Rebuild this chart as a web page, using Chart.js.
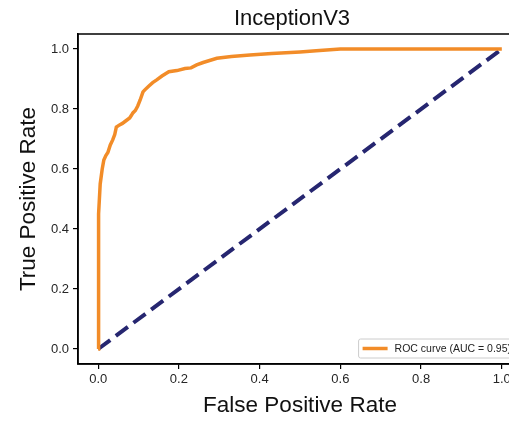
<!DOCTYPE html>
<html lang="en">
<head>
  <meta charset="UTF-8">
  <title>InceptionV3 ROC</title>
  <script src="https://cdn.jsdelivr.net/npm/chart.js@4.4.0/dist/chart.umd.min.js"></script>
  <style>
    html, body { margin: 0; padding: 0; background: #fff; overflow: hidden; }
  </style>
</head>
<body>
  <canvas id="roc" width="540" height="423"></canvas>
  <script>
    // ROC curve
    const fprValues = [0, 0, 0.002, 0.005, 0.010, 0.014, 0.019, 0.024, 0.030, 0.036, 0.041, 0.045, 0.053, 0.060, 0.068, 0.078, 0.082, 0.086, 0.092, 0.098, 0.104, 0.111, 0.115, 0.125, 0.135, 0.145, 0.158, 0.175, 0.195, 0.215, 0.230, 0.244, 0.26, 0.294, 0.33, 0.376, 0.43, 0.5, 0.54, 0.583, 0.6, 1.0];
    const tprValues = [0, 0.38, 0.45, 0.55, 0.60, 0.63, 0.645, 0.655, 0.68, 0.697, 0.715, 0.74, 0.747, 0.752, 0.760, 0.77, 0.778, 0.787, 0.795, 0.81, 0.83, 0.857, 0.863, 0.876, 0.888, 0.897, 0.91, 0.924, 0.928, 0.935, 0.937, 0.947, 0.955, 0.969, 0.975, 0.98, 0.985, 0.99, 0.994, 0.998, 1.0, 1.0];
    const chanceX = [0, 1];
    const chanceY = [0, 1];
    const tickValues = [0, 0.2, 0.4, 0.6, 0.8, 1.0];
    const chartTitle = 'InceptionV3';
    const rocLabel = 'ROC curve (AUC = 0.95)';

    const toPoints = (xs, ys) => xs.map((x, i) => ({ x: x, y: ys[i] }));
    const fixTicks = scale => { scale.ticks = tickValues.map(v => ({ value: v })); };

    const family = 'Liberation Sans, Arial, sans-serif';
    const tickFont = { family: family, size: 13 };
    const labelFont = { family: family, size: 22.5 };

    // title, frame on top + right, and the legend box inside the plot
    const framePlugin = {
      id: 'frame',
      afterDraw(chart) {
        const { ctx, chartArea } = chart;
        ctx.save();
        ctx.fillStyle = '#111';
        ctx.font = '22px ' + family;
        ctx.textAlign = 'center';
        ctx.textBaseline = 'middle';
        ctx.fillText(chartTitle, 292, 19);

        ctx.strokeStyle = '#000';
        ctx.lineWidth = 1.5;
        ctx.strokeRect(chartArea.left, chartArea.top, chartArea.right - chartArea.left, chartArea.bottom - chartArea.top);

        // legend
        const ds = chart.data.datasets[0];
        ctx.font = '10.5px ' + family;
        ctx.textAlign = 'left';
        const tw = ctx.measureText(ds.label).width;
        const boxW = 4 + 25 + 7 + tw + 6;
        const boxH = 19;
        const bx = chartArea.right - 5 - boxW;
        const by = chartArea.bottom - 6 - boxH;
        ctx.fillStyle = 'rgba(255,255,255,0.85)';
        ctx.strokeStyle = '#cccccc';
        ctx.lineWidth = 1;
        ctx.beginPath();
        ctx.roundRect(bx, by, boxW, boxH, 2);
        ctx.fill();
        ctx.stroke();
        ctx.strokeStyle = ds.borderColor;
        ctx.lineWidth = 3.5;
        ctx.beginPath();
        ctx.moveTo(bx + 4, by + boxH / 2);
        ctx.lineTo(bx + 29, by + boxH / 2);
        ctx.stroke();
        ctx.fillStyle = '#222';
        ctx.fillText(ds.label, bx + 36, by + boxH / 2 + 0.5);
        ctx.restore();
      }
    };

    const ctx = document.getElementById('roc').getContext('2d');
    new Chart(ctx, {
      type: 'scatter',
      data: {
        datasets: [
          {
            label: rocLabel,
            data: toPoints(fprValues, tprValues),
            showLine: true,
            borderColor: '#F28C28',
            borderWidth: 3.5,
            pointRadius: 0,
            tension: 0
          },
          {
            label: 'chance',
            data: toPoints(chanceX, chanceY),
            showLine: true,
            borderColor: '#262670',
            borderWidth: 4,
            borderDash: [15, 7],
            pointRadius: 0
          }
        ]
      },
      options: {
        responsive: false,
        animation: false,
        layout: { padding: { left: 0, right: 18, top: 34, bottom: 0 } },
        plugins: {
          legend: { display: false },
          tooltip: { enabled: false },
          title: { display: false }
        },
        scales: {
          x: {
            type: 'linear',
            min: -0.05,
            max: 1.05,
            afterBuildTicks: fixTicks,
            afterFit: s => { s.height = 59; },
            grid: { drawOnChartArea: false, color: '#000', tickLength: 5, lineWidth: 1.2 },
            border: { color: '#000', width: 1.5 },
            ticks: { color: '#262626', font: tickFont, padding: 3, maxRotation: 0, callback: v => v.toFixed(1) },
            title: { display: true, text: 'False Positive Rate', color: '#111', font: labelFont, padding: { top: 0, bottom: 3.5 } }
          },
          y: {
            type: 'linear',
            min: -0.05,
            max: 1.05,
            afterBuildTicks: fixTicks,
            afterFit: s => { s.width = 78; },
            grid: { drawOnChartArea: false, color: '#000', tickLength: 5, lineWidth: 1.2 },
            border: { color: '#000', width: 1.5 },
            ticks: { color: '#262626', font: tickFont, padding: 4, callback: v => v.toFixed(1) },
            title: { display: true, text: 'True Positive Rate', color: '#111', font: labelFont, padding: { top: 15.5, bottom: 0 } }
          }
        }
      },
      plugins: [framePlugin]
    });
  </script>
</body>
</html>
